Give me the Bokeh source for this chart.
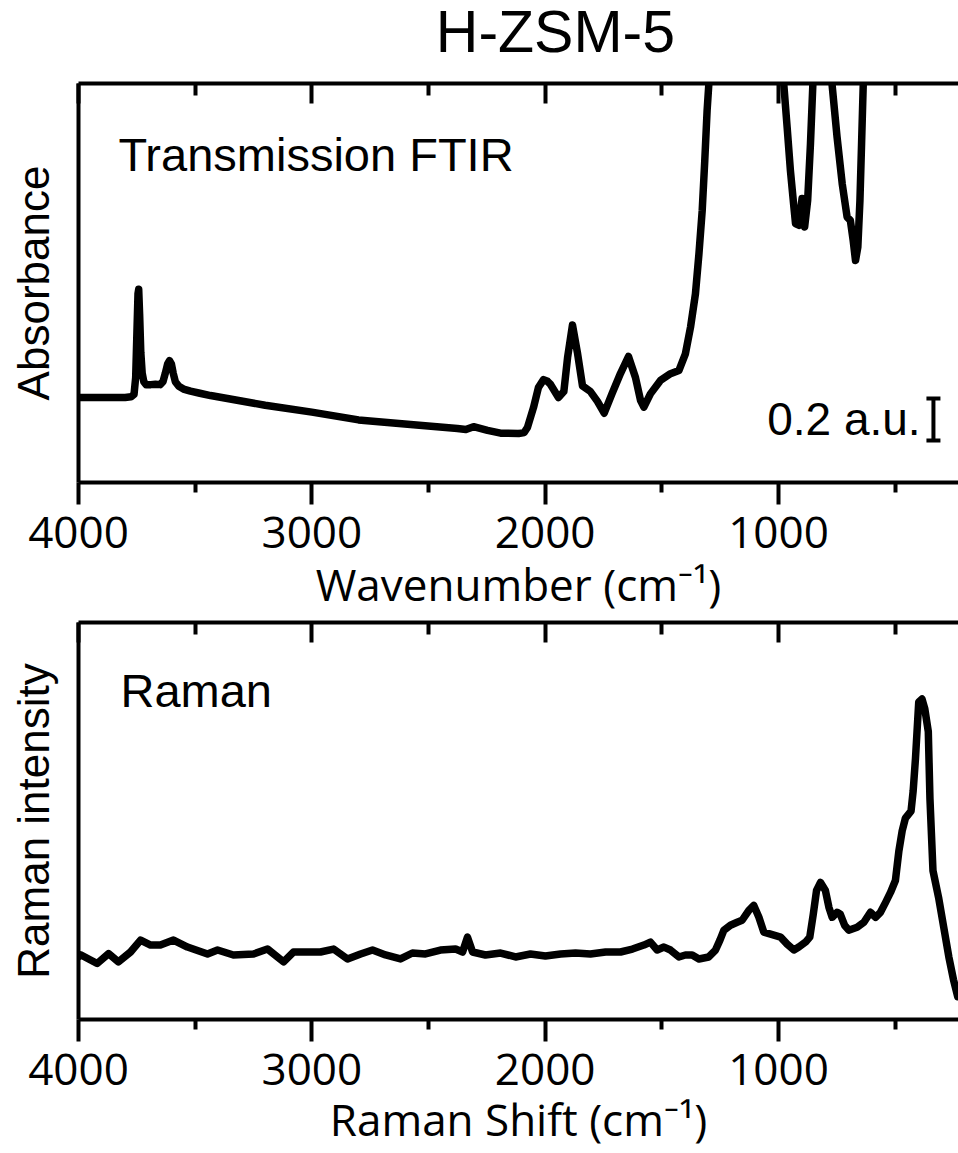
from bokeh.plotting import figure
from bokeh.models import Range1d, LinearAxis, FixedTicker, Label
from bokeh.layouts import column
from bokeh.embed import file_html
from bokeh.resources import INLINE

# ---------------- data ----------------
ftir_wn = [4000, 3800, 3775, 3762, 3755, 3750, 3745, 3742, 3738, 3733, 3727, 3720,
           3710, 3690, 3670, 3650, 3638, 3628, 3618, 3610, 3602, 3594, 3585, 3570,
           3550, 3520, 3480, 3434, 3200, 3000, 2800, 2577, 2376, 2340, 2307, 2247,
           2191, 2114, 2090, 2076, 2050, 2029, 2007, 1990, 1977, 1943, 1920, 1904,
           1883, 1862, 1840, 1806, 1776, 1747, 1713, 1677, 1643, 1613, 1591, 1577,
           1549, 1506, 1463, 1427, 1399, 1377, 1356, 1341, 1327, 1316, 1306, 1299,
           1285, 1000, 977, 963, 949, 934, 927, 913, 899, 888, 875, 863, 853, 845,
           780, 770, 749, 727, 706, 692, 680, 670, 660, 651, 644, 637, 625, 228]
ftir_abs = [0.405, 0.405, 0.408, 0.42, 0.50, 0.70, 0.90, 0.92, 0.80, 0.62, 0.52, 0.48,
            0.465, 0.466, 0.468, 0.466, 0.48, 0.52, 0.565, 0.58, 0.565, 0.52, 0.48, 0.458,
            0.445, 0.435, 0.425, 0.414, 0.368, 0.335, 0.298, 0.276, 0.257, 0.252, 0.266, 0.248,
            0.235, 0.233, 0.238, 0.262, 0.357, 0.452, 0.49, 0.482, 0.467, 0.405, 0.433, 0.595,
            0.75, 0.62, 0.46, 0.433, 0.386, 0.33, 0.424, 0.52, 0.60, 0.50, 0.39, 0.359,
            0.422, 0.486, 0.518, 0.533, 0.613, 0.74, 0.898, 1.089, 1.295, 1.533, 1.771, 1.89,
            2.3, 2.3, 1.89, 1.692, 1.486, 1.311, 1.233, 1.225, 1.352, 1.217, 1.344, 1.614, 1.89, 2.3,
            2.3, 1.89, 1.645, 1.423, 1.264, 1.248, 1.152, 1.057, 1.121, 1.343, 1.614, 1.89, 2.3, 2.3]

raman_shift = [4000, 3991, 3920, 3871, 3829, 3777, 3734, 3691, 3649, 3593, 3533, 3447,
               3404, 3336, 3250, 3190, 3121, 3079, 2963, 2907, 2847, 2791, 2740, 2684,
               2620, 2569, 2513, 2449, 2384, 2354, 2333, 2311, 2256, 2191, 2127, 2063,
               1999, 1934, 1870, 1806, 1741, 1677, 1626, 1577, 1549, 1520, 1491, 1463,
               1427, 1399, 1370, 1341, 1299, 1270, 1251, 1234, 1206, 1177, 1156, 1127,
               1106, 1084, 1063, 1034, 991, 963, 934, 913, 884, 866, 851, 837, 820,
               799, 784, 770, 749, 735, 717, 699, 663, 634, 606, 584, 563, 541, 520,
               499, 484, 470, 456, 432, 423, 413, 399, 385, 373, 358, 351, 338, 314,
               292, 270, 250, 232]
raman_int = [0.158, 0.163, 0.141, 0.166, 0.145, 0.17, 0.20, 0.1875, 0.1875, 0.20, 0.1825, 0.165,
             0.175, 0.1625, 0.165, 0.1775, 0.145, 0.17, 0.17, 0.1775, 0.1525, 0.165, 0.175, 0.1625,
             0.1525, 0.1675, 0.165, 0.175, 0.1775, 0.17, 0.2075, 0.17, 0.1625, 0.1675, 0.1575, 0.165,
             0.16, 0.165, 0.1675, 0.165, 0.17, 0.17, 0.1775, 0.1875, 0.195, 0.175, 0.1825, 0.175,
             0.1575, 0.1625, 0.1625, 0.1525, 0.1575, 0.175, 0.20, 0.225, 0.2375, 0.245, 0.25, 0.275,
             0.2875, 0.2575, 0.22, 0.215, 0.2075, 0.19, 0.175, 0.1825, 0.195, 0.2075, 0.265, 0.325, 0.345,
             0.325, 0.2825, 0.2575, 0.27, 0.265, 0.2375, 0.225, 0.2325, 0.245, 0.27, 0.2575, 0.27, 0.295, 0.32,
             0.35, 0.425, 0.475, 0.5075, 0.525, 0.575, 0.6575, 0.80, 0.8075, 0.7825, 0.725, 0.557, 0.375, 0.3075,
             0.2325, 0.1575, 0.10, 0.0575]

x_major_ticks = [4000, 3000, 2000, 1000]
x_minor_ticks = [3500, 2500, 1500, 500]

scale_bar_wn = [336]
scale_bar_lo = [0.2]
scale_bar_hi = [0.4]

X_START, X_END = 4000, 228.6
BLACK = "black"
LW = 7.5


def style(p, xlabel, ylabel, xlabel_standoff):
    p.xgrid.visible = False
    p.ygrid.visible = False
    xa = p.xaxis[0]
    xa.ticker = FixedTicker(ticks=x_major_ticks, minor_ticks=x_minor_ticks)
    xa.axis_line_width = 4
    xa.axis_line_color = BLACK
    xa.major_tick_line_width = 4
    xa.minor_tick_line_width = 4
    xa.major_tick_line_color = BLACK
    xa.minor_tick_line_color = BLACK
    xa.major_tick_out = 22
    xa.major_tick_in = 0
    xa.minor_tick_out = 10
    xa.minor_tick_in = 0
    xa.major_label_text_font = "Open Sans"
    xa.major_label_text_font_size = "44px"
    xa.major_label_text_color = BLACK
    xa.major_label_standoff = 12
    xa.axis_label = xlabel
    xa.axis_label_text_font = "Open Sans"
    xa.axis_label_text_font_size = "44px"
    xa.axis_label_text_font_style = "normal"
    xa.axis_label_text_color = BLACK
    xa.axis_label_standoff = xlabel_standoff

    top = LinearAxis(ticker=FixedTicker(ticks=x_major_ticks, minor_ticks=x_minor_ticks),
                     axis_line_width=4, axis_line_color=BLACK,
                     major_tick_line_width=4, minor_tick_line_width=4,
                     major_tick_line_color=BLACK, minor_tick_line_color=BLACK,
                     major_tick_in=20, major_tick_out=0,
                     minor_tick_in=12, minor_tick_out=0,
                     major_label_text_font_size="1px", major_label_text_color=None,
                     major_label_standoff=0)
    p.add_layout(top, "above")

    ya = p.yaxis[0]
    ya.ticker = FixedTicker(ticks=[])
    ya.axis_line_width = 4
    ya.axis_line_color = BLACK
    ya.major_tick_out = 0
    ya.major_tick_in = 0
    ya.minor_tick_out = 0
    ya.minor_tick_in = 0
    ya.major_label_text_font_size = "1px"
    ya.major_label_text_color = None
    ya.major_label_standoff = 0
    ya.axis_label = ylabel
    ya.axis_label_text_font = "Liberation Sans"
    ya.axis_label_text_font_size = "44px"
    ya.axis_label_text_font_style = "normal"
    ya.axis_label_text_color = BLACK
    ya.axis_label_standoff = 21


# ---------------- title strip ----------------
p0 = figure(width=958, height=77, x_range=Range1d(X_START, X_END), y_range=Range1d(0, 77),
            output_backend="svg", toolbar_location=None,
            x_axis_location=None, y_axis_location=None,
            min_border_left=78, min_border_right=0, min_border_top=0, min_border_bottom=0,
            outline_line_color=None, background_fill_color="white", border_fill_color="white")
p0.xgrid.visible = False
p0.ygrid.visible = False
p0.add_layout(Label(x=1956, y=46, text="H-ZSM-5", text_align="center", text_baseline="alphabetic",
                    text_font="Liberation Sans", text_font_size="59px", text_color=BLACK))

# ---------------- FTIR panel ----------------
p1 = figure(width=958, height=541, x_range=Range1d(X_START, X_END), y_range=Range1d(0, 1.9),
            output_backend="svg", toolbar_location=None,
            min_border_left=78, min_border_right=0, min_border_top=6, min_border_bottom=136,
            outline_line_color=None, background_fill_color="white", border_fill_color="white")
style(p1, "Wavenumber (cm\u207b\u00b9)", "Absorbance", 3)
p1.line(ftir_wn, ftir_abs, line_width=LW, line_color=BLACK, line_join="round", line_cap="round")
p1.segment(x0=scale_bar_wn, y0=scale_bar_lo, x1=scale_bar_wn, y1=scale_bar_hi,
           line_width=4, line_color=BLACK)
p1.segment(x0=[w + 30 for w in scale_bar_wn], y0=scale_bar_lo, x1=[w - 30 for w in scale_bar_wn],
           y1=scale_bar_lo, line_width=4, line_color=BLACK)
p1.segment(x0=[w + 30 for w in scale_bar_wn], y0=scale_bar_hi, x1=[w - 30 for w in scale_bar_wn],
           y1=scale_bar_hi, line_width=4, line_color=BLACK)
p1.add_layout(Label(x=391, y=0.302, text="0.2 a.u.", text_align="right", text_baseline="alphabetic",
                    text_font="Liberation Sans", text_font_size="46px", text_color=BLACK))
p1.add_layout(Label(x=3829, y=1.564, text="Transmission FTIR", text_align="left",
                    text_baseline="alphabetic", text_font="Liberation Sans",
                    text_font_size="47px", text_color=BLACK))

# ---------------- Raman panel ----------------
p2 = figure(width=958, height=535, x_range=Range1d(X_START, X_END), y_range=Range1d(0, 1),
            output_backend="svg", toolbar_location=None,
            min_border_left=78, min_border_right=0, min_border_top=4, min_border_bottom=134,
            outline_line_color=None, background_fill_color="white", border_fill_color="white")
style(p2, "Raman Shift (cm\u207b\u00b9)", "Raman intensity", 1)
p2.line(raman_shift, raman_int, line_width=LW, line_color=BLACK, line_join="round", line_cap="round")
p2.add_layout(Label(x=3820, y=0.8275, text="Raman", text_align="left", text_baseline="alphabetic",
                    text_font="Liberation Sans", text_font_size="47px", text_color=BLACK))

layout = column(p0, p1, p2, spacing=0)
open("out.html", "w").write(file_html(layout, INLINE))
